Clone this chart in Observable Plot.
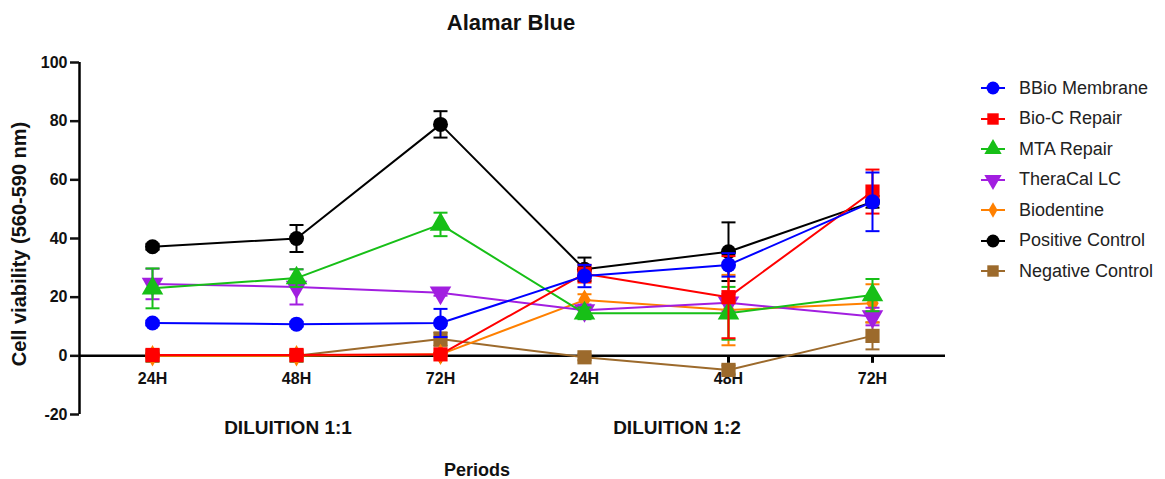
<!DOCTYPE html>
<html>
<head>
<meta charset="utf-8">
<script src="https://cdn.jsdelivr.net/npm/d3@7"></script>
<script src="https://cdn.jsdelivr.net/npm/@observablehq/plot@0.6"></script>
<style>
  body { margin: 0; background: #fff; font-family: "Liberation Sans", Arial, sans-serif; }
  #wrap { position: relative; width: 1165px; height: 479px; overflow: hidden; }
  .lbl { position: absolute; transform: translate(-50%, -50%); white-space: nowrap; font-weight: bold; color: #111; }
  .leg { position: absolute; left: 978px; height: 24px; display: flex; align-items: center; transform: translateY(-50%); }
  .leg span { font-size: 18px; color: #222; margin-left: 11px; }
</style>
</head>
<body>
<div id="wrap"></div>
<script>
// ---- data ----
const periods = ["24H", "48H", "72H", "24H", "48H", "72H"];
const dilutions = ["DILUITION 1:1", "DILUITION 1:2"];
const seriesNames = ["BBio Membrane", "Bio-C Repair", "MTA Repair", "TheraCal LC", "Biodentine", "Positive Control", "Negative Control"];
const seriesColors = ["#0000ff", "#ff0000", "#17bf17", "#a21ee0", "#ff8000", "#000000", "#9c6a2c"];
const seriesSymbols = ["circle", "square", "triangle", "triangle", "diamond", "circle", "square"];
const yTicks = [-20, 0, 20, 40, 60, 80, 100];

const bbioMean = [11.2, 10.8, 11.2, 27.2, 31.0, 52.5];
const bbioErr  = [0.8, 0.8, 4.8, 3.8, 4.0, 10.0];
const biocMean = [0.3, 0.3, 0.5, 28.0, 20.0, 56.0];
const biocErr  = [0.5, 0.5, 0.5, 3.0, 14.0, 7.5];
const mtaMean  = [23.0, 26.5, 44.8, 14.5, 14.5, 20.7];
const mtaErr   = [6.8, 3.0, 4.0, 2.0, 9.0, 5.5];
const theraMean = [24.5, 23.5, 21.5, 15.5, 18.1, 13.4];
const theraErr  = [5.2, 6.0, 1.0, 2.0, 3.0, 3.0];
const biodMean = [0.0, 0.0, 0.5, 19.0, 15.6, 17.9];
const biodErr  = [0.5, 0.5, 0.5, 2.0, 12.0, 6.5];
const posMean  = [37.2, 40.0, 78.9, 29.5, 35.5, 52.5];
const posErr   = [1.0, 4.6, 4.5, 4.0, 10.0, 2.0];
const negMean  = [0.0, 0.0, 5.7, -0.5, -4.8, 6.8];
const negErr   = [0.5, 0.5, 2.3, 1.0, 1.5, 4.6];

const means = [bbioMean, biocMean, mtaMean, theraMean, biodMean, posMean, negMean];
const errs  = [bbioErr, biocErr, mtaErr, theraErr, biodErr, posErr, negErr];

// drawing order (bottom to top)
const drawOrder = ["Negative Control", "Positive Control", "Biodentine", "TheraCal LC", "MTA Repair", "Bio-C Repair", "BBio Membrane"];

const xIdx = d3.range(periods.length);
const rowsFor = (name) => {
  const k = seriesNames.indexOf(name);
  return xIdx.map(i => ({
    series: name, x: i, y: means[k][i],
    lo: means[k][i] - errs[k][i], hi: means[k][i] + errs[k][i],
    rot: name === "TheraCal LC" ? 180 : 0
  }));
};

const capSymbol = { draw(ctx) { ctx.moveTo(-7, 0); ctx.lineTo(7, 0); } };
const tickSymbol = { draw(ctx) { ctx.moveTo(0, 0); ctx.lineTo(0, 7); } };

const xDomain = [-0.507, 5.507];
const marks = [];
marks.push(Plot.ruleX([xDomain[0]], { y1: -20, y2: 100, stroke: "#000", strokeWidth: 2.5 }));
marks.push(Plot.ruleY([0], { stroke: "#000", strokeWidth: 2.5 }));
marks.push(Plot.dot(xIdx, { x: d => d, y: () => 0, symbol: tickSymbol, fill: "none", stroke: "#000", strokeWidth: 3 }));
marks.push(Plot.text(xIdx, { x: d => d, y: () => 0, text: d => periods[d], dy: 23, fontSize: 16, fontWeight: "bold", fill: "#111" }));
marks.push(Plot.axisY({ ticks: yTicks, tickSize: 9, tickPadding: 3, fontSize: 16, fontWeight: "bold", strokeWidth: 2.5, label: null, tickFormat: d => String(d) }));

for (const name of drawOrder) {
  const rows = rowsFor(name);
  marks.push(Plot.line(rows, { x: "x", y: "y", stroke: "series", strokeWidth: 2 }));
  marks.push(Plot.ruleX(rows, { x: "x", y1: "lo", y2: "hi", stroke: "series", strokeWidth: 2 }));
  marks.push(Plot.dot(rows, { x: "x", y: "lo", symbol: capSymbol, fill: "none", stroke: "series", strokeWidth: 2 }));
  marks.push(Plot.dot(rows, { x: "x", y: "hi", symbol: capSymbol, fill: "none", stroke: "series", strokeWidth: 2 }));
  marks.push(Plot.dot(rows, { x: "x", y: "y", symbol: "series", fill: "series", stroke: "none", rotate: "rot",
    r: name === "Biodentine" ? 6.5 : (name.includes("Repair") || name.includes("Control") && name.startsWith("N") || name === "TheraCal LC") ? 8 : 7.5 }));
}

const chart = Plot.plot({
  width: 1165,
  height: 479,
  marginLeft: 79,
  marginRight: 220,
  marginTop: 62,
  marginBottom: 65,
  style: { fontFamily: "'Liberation Sans', Arial, sans-serif", fontWeight: "bold", color: "#111", background: "transparent" },
  x: { type: "linear", domain: xDomain, axis: null },
  y: { domain: [-20, 100] },
  color: { domain: seriesNames, range: seriesColors },
  symbol: { domain: seriesNames, range: seriesSymbols },
  marks
});

const wrap = document.getElementById("wrap");
wrap.appendChild(chart);

// ---- annotations (real text) ----
function label(text, x, y, size, extra) {
  const d = document.createElement("div");
  d.className = "lbl";
  d.textContent = text;
  d.style.left = x + "px";
  d.style.top = y + "px";
  d.style.fontSize = size + "px";
  if (extra) d.style.transform = "translate(-50%, -50%) " + extra;
  wrap.appendChild(d);
}
label("Alamar Blue", 511, 23, 22);
label("Cell viability (560-590 nm)", 19, 244, 20, "rotate(-90deg)");
label(dilutions[0], 288, 428, 19);
label(dilutions[1], 677, 428, 19);
label("Periods", 477, 470, 18);

// ---- legend ----
const legendOrder = seriesNames;
legendOrder.forEach((name, k) => {
  const row = document.createElement("div");
  row.className = "leg";
  row.style.top = (88 + k * 30.5) + "px";
  const sw = d3.create("svg").attr("width", 30).attr("height", 24);
  const c = seriesColors[k];
  sw.append("line").attr("x1", 3).attr("x2", 27).attr("y1", 12).attr("y2", 12).attr("stroke", c).attr("stroke-width", 2);
  const symMap = { circle: d3.symbolCircle, square: d3.symbolSquare, triangle: d3.symbolTriangle, diamond: d3.symbolDiamond };
  const size = seriesSymbols[k] === "diamond" ? 70 : 130;
  sw.append("path").attr("d", d3.symbol(symMap[seriesSymbols[k]], size)())
    .attr("transform", `translate(15,12) rotate(${name === "TheraCal LC" ? 180 : 0})`).attr("fill", c);
  row.appendChild(sw.node());
  const t = document.createElement("span");
  t.textContent = name;
  row.appendChild(t);
  wrap.appendChild(row);
});
</script>
</body>
</html>
